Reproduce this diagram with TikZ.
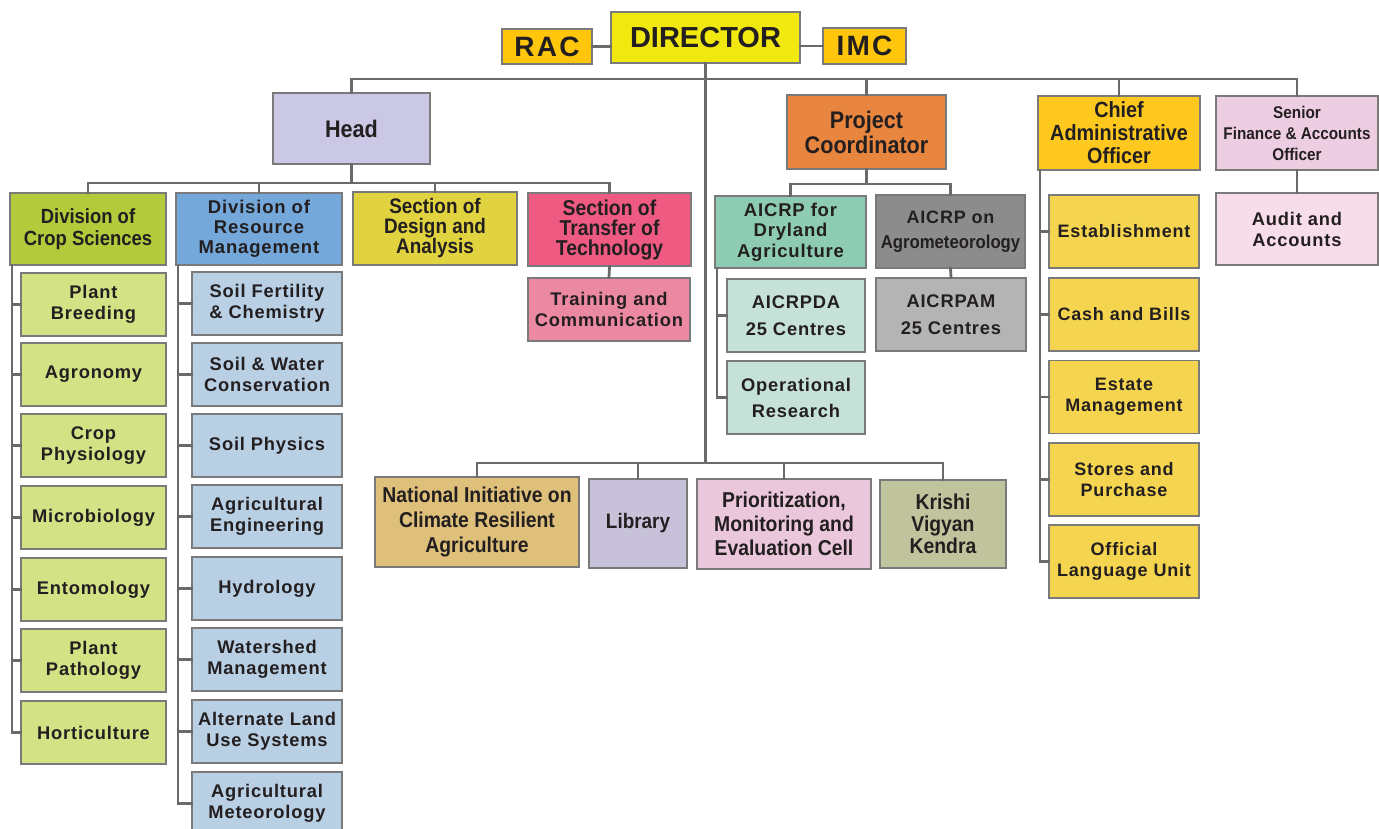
\documentclass[tikz,border=0pt]{standalone}
\usepackage{fontspec}
\setmainfont{Liberation Sans}
\newfontfamily\nf{Liberation Sans}[FakeStretch=0.9]
\newfontfamily\wf{Liberation Sans}[LetterSpace=4.5]
\newfontfamily\wff{Liberation Sans}[LetterSpace=8]
\newcommand\fs[2]{\fontsize{#1}{#2}\selectfont\bfseries}
\definecolor{cLine}{HTML}{6A6A6A}
\definecolor{cBorder}{HTML}{7A7A7A}
\definecolor{cText}{HTML}{231F20}
\definecolor{cDir}{HTML}{F0E80E}
\definecolor{cRac}{HTML}{FFC60B}
\definecolor{cHead}{HTML}{CBC8E5}
\definecolor{cPC}{HTML}{E8853F}
\definecolor{cCao}{HTML}{FEC81E}
\definecolor{cSfo}{HTML}{EDCDE1}
\definecolor{cDcs}{HTML}{B3CA3B}
\definecolor{cDrm}{HTML}{74A8DA}
\definecolor{cSda}{HTML}{E1D33F}
\definecolor{cStt}{HTML}{EE5A82}
\definecolor{cTc}{HTML}{EC89A2}
\definecolor{cCc}{HTML}{D4E286}
\definecolor{cRc}{HTML}{B9CFE4}
\definecolor{cDry}{HTML}{8DCCB3}
\definecolor{cAgm}{HTML}{8C8C8C}
\definecolor{cAm}{HTML}{B4B4B4}
\definecolor{cDa}{HTML}{C6E2D8}
\definecolor{cCaoc}{HTML}{F5D54F}
\definecolor{cAud}{HTML}{F6DDE9}
\definecolor{cNic}{HTML}{DEC07B}
\definecolor{cLib}{HTML}{C7C2DA}
\definecolor{cPme}{HTML}{EAC7DA}
\definecolor{cKvk}{HTML}{BFC49C}
\tikzset{
  box/.style={draw=cBorder, line width=1.1pt, align=center, inner sep=1pt, text=cText},
  sz/.style 2 args={minimum width=#1, minimum height=#2},
  conn/.style={draw=cLine, line width=2.8pt, line cap=rect},
  cc/.style={box, fill=cCc, sz={145}{63}, font=\wf\fs{18.3}{21}},
  rc/.style={box, fill=cRc, sz={150}{63}, font=\wf\fs{18.3}{21}},
  ac/.style={box, fill=cCaoc, sz={150}{73}, font=\wf\fs{18}{21}},
}
\begin{document}
\begin{tikzpicture}[x=1pt,y=-1pt]
\useasboundingbox (0,0) rectangle (1379,829);
% top
\node[box, fill=cDir, sz={189}{51}, font=\fs{29}{30}] (dir) at (705.5,37.5) {DIRECTOR};
\node[box, fill=cRac, sz={90}{35}, font=\wff\fs{28}{28}] (rac) at (547,46.5) {RAC};
\node[box, fill=cRac, sz={83}{36}, font=\wff\fs{28}{28}] (imc) at (864.5,46) {IMC};
% level 1
\node[box, fill=cHead, sz={157}{71}, font=\nf\fs{24}{25}] (head) at (351.5,128.5) {Head};
\node[box, fill=cPC, sz={159}{74}, font=\nf\fs{24}{25}] (pc) at (866.5,132) {Project\\Coordinator};
\node[box, fill=cCao, sz={162}{74}, font=\nf\fs{22}{23}] (cao) at (1119,133) {Chief\\Administrative\\Officer};
\node[box, fill=cSfo, sz={162}{74}, font=\nf\fs{17}{21}] (sfo) at (1297,133) {Senior\\Finance \& Accounts\\Officer};
% head children
\node[box, fill=cDcs, sz={156}{72}, font=\nf\fs{20.5}{22}] (dcs) at (88,229) {Division of\\Crop Sciences};
\node[box, fill=cDrm, sz={166}{72}, font=\wf\fs{18.5}{20}] (drm) at (259,229) {Division of\\Resource\\Management};
\node[box, fill=cSda, sz={164}{73}, font=\nf\fs{21}{20}] (sda) at (435,228.5) {Section of\\Design and\\Analysis};
\node[box, fill=cStt, sz={163}{73}, font=\nf\fs{21.5}{20}] (stt) at (609.5,229.5) {Section of\\Transfer of\\Technology};
\node[box, fill=cTc, sz={162}{63}, font=\wf\fs{18.3}{21}] (tc) at (609,309.5) {Training and\\Communication};
% crop sciences children
\node[cc] (pb) at (93.5,304.5) {Plant\\Breeding};
\node[cc] (ag) at (93.5,374.5) {Agronomy};
\node[cc] (cp) at (93.5,445.5) {Crop\\Physiology};
\node[cc] (mb) at (93.5,517.5) {Microbiology};
\node[cc] (en) at (93.5,589.5) {Entomology};
\node[cc] (pp) at (93.5,660.5) {Plant\\Pathology};
\node[cc] (ho) at (93.5,732.5) {Horticulture};
% resource management children
\node[rc] (sf) at (267,303.5) {Soil Fertility\\\& Chemistry};
\node[rc] (sw) at (267,374.5) {Soil \& Water\\Conservation};
\node[rc] (sp) at (267,445.5) {Soil Physics};
\node[rc] (ae) at (267,516.5) {Agricultural\\Engineering};
\node[rc] (hy) at (267,588.5) {Hydrology};
\node[rc] (wm) at (267,659.5) {Watershed\\Management};
\node[rc] (al) at (267,731.5) {Alternate Land\\Use Systems};
\node[rc] (am) at (267,803.5) {Agricultural\\Meteorology};
% project coordinator children
\node[box, fill=cDry, sz={151}{72}, font=\wf\fs{18.5}{20.5}] (dry) at (790.5,232) {AICRP for\\Dryland\\Agriculture};
\node[box, fill=cAgm, sz={149}{73}, font=\nf\fs{18.6}{25}] (agm) at (950.5,231.5) {{\wf\fs{18}{25}AICRP on}\\Agrometeorology};
\node[box, fill=cAm, sz={150}{73}, font=\wf\fs{18.3}{27}] (aicrpam) at (951,314.5) {AICRPAM\\25 Centres};
\node[box, fill=cDa, sz={138}{73}, font=\wf\fs{18.3}{27}] (da) at (796,315.5) {AICRPDA\\25 Centres};
\node[box, fill=cDa, sz={138}{73}, font=\wf\fs{18.3}{26}] (or) at (796,397.5) {Operational\\Research};
% CAO children
\node[ac] (es) at (1124,231.5) {Establishment};
\node[ac] (cb) at (1124,314.5) {Cash and Bills};
\node[ac] (em) at (1124,397) {Estate\\Management};
\node[ac] (spu) at (1124,479.5) {Stores and\\Purchase};
\node[ac] (ol) at (1124,561.5) {Official\\Language Unit};
% SFO child
\node[box, fill=cAud, sz={162}{72}, font=\wf\fs{18.3}{21}] (aud) at (1297,229) {Audit and\\Accounts};
% bottom row
\node[box, fill=cNic, sz={204}{90}, font=\nf\fs{21.5}{25}] (nic) at (477,522) {National Initiative on\\Climate Resilient\\Agriculture};
\node[box, fill=cLib, sz={98}{89}, font=\nf\fs{21}{24}] (lib) at (638,523.5) {Library};
\node[box, fill=cPme, sz={174}{90}, font=\nf\fs{21.5}{24}] (pme) at (784,524) {Prioritization,\\Monitoring and\\Evaluation Cell};
\node[box, fill=cKvk, sz={126}{88}, font=\nf\fs{21.5}{22}] (kvk) at (943,524) {Krishi\\Vigyan\\Kendra};
% coordinates
\coordinate (bus) at (0,79);
\coordinate (hbus) at (0,183);
\coordinate (pbus) at (0,184);
\coordinate (bbus) at (0,463);
\coordinate (crail) at (12,0);
\coordinate (rrail) at (178,0);
\coordinate (drail) at (717,0);
\coordinate (arail) at (1040,0);
% connectors
\draw[conn] (rac.east) -- (rac.east -| dir.west);
\draw[conn] (imc.west) -- (imc.west -| dir.east);
\draw[conn] (dir.south) -- (dir.south |- bbus);
\draw[conn] (head.north) -- (head.north |- bus) -- (sfo.north |- bus) -- (sfo.north);
\draw[conn] (pc.north) -- (pc.north |- bus);
\draw[conn] (cao.north) -- (cao.north |- bus);
\draw[conn] (head.south) -- (head.south |- hbus);
\draw[conn] (dcs.north) -- (dcs.north |- hbus) -- (stt.north |- hbus) -- (stt.north);
\draw[conn] (drm.north) -- (drm.north |- hbus);
\draw[conn] (sda.north) -- (sda.north |- hbus);
\draw[conn] (stt.south) -- (tc.north);
\draw[conn] (crail |- dcs.south) -- (crail |- ho.west) -- (ho.west);
\foreach \n in {pb,ag,cp,mb,en,pp} \draw[conn] (crail |- \n.west) -- (\n.west);
\draw[conn] (rrail |- drm.south) -- (rrail |- am.west) -- (am.west);
\foreach \n in {sf,sw,sp,ae,hy,wm,al} \draw[conn] (rrail |- \n.west) -- (\n.west);
\draw[conn] (pc.south) -- (pc.south |- pbus);
\draw[conn] (dry.north) -- (dry.north |- pbus) -- (agm.north |- pbus) -- (agm.north);
\draw[conn] (agm.south) -- (aicrpam.north);
\draw[conn] (drail |- dry.south) -- (drail |- or.west) -- (or.west);
\draw[conn] (drail |- da.west) -- (da.west);
\draw[conn] (arail |- cao.south) -- (arail |- ol.west) -- (ol.west);
\foreach \n in {es,cb,em,spu} \draw[conn] (arail |- \n.west) -- (\n.west);
\draw[conn] (sfo.south) -- (aud.north);
\draw[conn] (nic.north) -- (nic.north |- bbus) -- (kvk.north |- bbus) -- (kvk.north);
\draw[conn] (lib.north) -- (lib.north |- bbus);
\draw[conn] (pme.north) -- (pme.north |- bbus);
\end{tikzpicture}
\end{document}
